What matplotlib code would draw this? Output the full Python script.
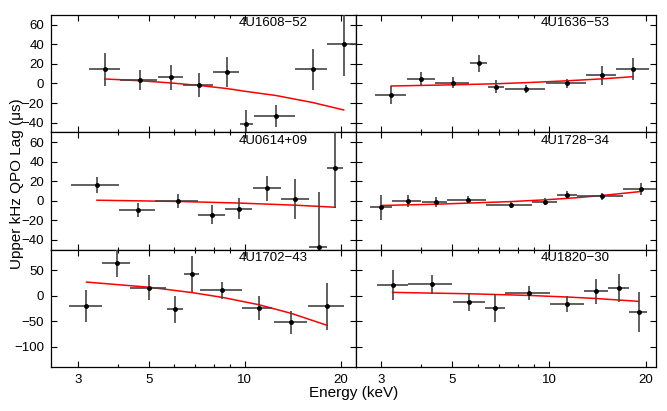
import numpy as np
import matplotlib.pyplot as plt
from matplotlib.ticker import FixedLocator, NullFormatter, FixedFormatter

plt.rcParams['font.family'] = ['Liberation Sans', 'DejaVu Sans']

# Data: energy bin centre / edges (keV), lag and error (us),
# plus the red model curve sampled at a few energies.
names = ['4U1608\u221252', '4U1636\u221253', '4U0614+09',
         '4U1728\u221234', '4U1702\u221243', '4U1820\u221230']

e_1608 = [3.64, 4.68, 5.87, 7.17, 8.77, 10.1, 12.5, 16.3, 20.4]
elo_1608 = [3.25, 4.05, 5.33, 6.41, 7.97, 9.65, 10.7, 14.4, 18.1]
ehi_1608 = [4.05, 5.32, 6.41, 7.95, 9.58, 10.6, 14.4, 18.1, 23.0]
lag_1608 = [14.4, 3.5, 6.3, -1.6, 11.4, -41.7, -33.2, 14.4, 39.9]
err_1608 = [16.6, 10.0, 12.7, 12.0, 15.3, 15.0, 11.3, 21.0, 32.3]
mod_e_1608 = [3.64, 4.68, 5.87, 7.17, 8.77, 10.1, 12.5, 16.3, 20.4]
mod_1608 = [4.6, 2.8, 0.5, -2.0, -5.2, -8.2, -12.3, -19.5, -27.1]

e_1636 = [3.23, 4.0, 5.03, 6.05, 6.83, 8.46, 11.35, 14.6, 18.2]
elo_1636 = [2.87, 3.61, 4.42, 5.66, 6.45, 7.27, 9.76, 13.0, 16.2]
ehi_1636 = [3.60, 4.41, 5.64, 6.43, 7.25, 9.69, 13.0, 16.1, 20.4]
lag_1636 = [-11.8, 4.6, 0.8, 20.5, -3.3, -5.3, 0.1, 8.3, 14.8]
err_1636 = [8.9, 6.8, 5.7, 8.5, 6.8, 4.0, 4.6, 9.5, 10.9]
mod_e_1636 = [3.23, 5.03, 6.83, 8.46, 11.35, 14.6, 18.2]
mod_1636 = [-2.6, -1.4, -0.3, 0.8, 2.7, 4.7, 6.9]

e_0614 = [3.44, 4.63, 6.19, 7.89, 9.56, 11.7, 14.4, 17.1, 19.2]
elo_0614 = [2.85, 4.03, 5.24, 7.15, 8.69, 10.6, 13.0, 15.9, 18.1]
ehi_0614 = [4.02, 5.23, 7.14, 8.69, 10.5, 13.0, 15.9, 18.1, 20.3]
lag_0614 = [16.3, -9.6, -0.1, -14.4, -8.3, 12.9, 2.0, -47.5, 33.4]
err_0614 = [8.0, 7.2, 6.8, 9.6, 10.8, 12.8, 20.5, 57.0, 40.3]
mod_e_0614 = [3.44, 6.19, 9.56, 14.4, 19.2]
mod_0614 = [0.6, -0.7, -2.3, -4.5, -6.6]

e_1728 = [3.0, 3.63, 4.44, 5.59, 7.62, 9.72, 11.4, 14.6, 19.3]
elo_1728 = [2.77, 3.24, 4.03, 4.83, 6.36, 8.88, 10.6, 12.2, 17.0]
ehi_1728 = [3.24, 4.01, 4.83, 6.36, 8.88, 10.6, 12.2, 17.0, 21.5]
lag_1728 = [-6.6, -0.1, -1.1, 1.3, -4.2, -1.1, 6.4, 4.4, 11.9]
err_1728 = [12.8, 6.2, 5.0, 4.0, 2.8, 3.7, 3.8, 3.1, 5.8]
mod_e_1728 = [3.0, 4.44, 7.62, 9.72, 12.0, 14.6, 19.3]
mod_1728 = [-4.8, -3.5, -0.8, 1.0, 3.0, 5.4, 9.5]

e_1702 = [3.19, 3.98, 5.01, 6.06, 6.81, 8.5, 11.05, 14.0, 18.1]
elo_1702 = [2.81, 3.57, 4.38, 5.69, 6.43, 7.22, 9.81, 12.3, 15.8]
ehi_1702 = [3.57, 4.38, 5.66, 6.41, 7.19, 9.79, 12.2, 15.7, 20.4]
lag_1702 = [-20.5, 63.0, 15.4, -27.0, 42.2, 10.2, -24.4, -52.4, -21.1]
err_1702 = [31.0, 27.0, 24.5, 27.0, 35.0, 16.0, 23.0, 22.0, 45.7]
mod_e_1702 = [3.19, 5.01, 6.81, 8.5, 11.05, 14.0, 18.1]
mod_1702 = [26.5, 16.4, 6.0, -3.5, -17.8, -35.0, -58.3]

e_1820 = [3.26, 4.32, 5.64, 6.8, 8.67, 11.4, 14.0, 16.5, 19.0]
elo_1820 = [2.91, 3.65, 5.01, 6.31, 7.29, 10.05, 12.8, 15.3, 17.7]
ehi_1820 = [3.65, 5.0, 6.31, 7.29, 10.05, 12.8, 15.2, 17.7, 20.2]
lag_1820 = [20.6, 22.6, -13.3, -24.4, 5.0, -16.5, 8.3, 14.8, -32.2]
err_1820 = [29.0, 18.6, 17.6, 28.0, 13.0, 15.5, 24.8, 26.8, 40.0]
mod_e_1820 = [3.26, 5.64, 8.67, 11.4, 14.0, 19.0]
mod_1820 = [6.3, 3.6, 0.3, -2.8, -5.7, -11.3]

sources = [
    (e_1608, elo_1608, ehi_1608, lag_1608, err_1608, mod_e_1608, mod_1608),
    (e_1636, elo_1636, ehi_1636, lag_1636, err_1636, mod_e_1636, mod_1636),
    (e_0614, elo_0614, ehi_0614, lag_0614, err_0614, mod_e_0614, mod_0614),
    (e_1728, elo_1728, ehi_1728, lag_1728, err_1728, mod_e_1728, mod_1728),
    (e_1702, elo_1702, ehi_1702, lag_1702, err_1702, mod_e_1702, mod_1702),
    (e_1820, elo_1820, ehi_1820, lag_1820, err_1820, mod_e_1820, mod_1820),
]

fig, axes = plt.subplots(3, 2, figsize=(6.67, 4.11), dpi=100,
                         gridspec_kw=dict(width_ratios=[305, 300]))
fig.subplots_adjust(left=0.0765, right=0.9835, top=0.9635, bottom=0.107,
                     wspace=0, hspace=0)

for i, ax in enumerate(axes.flat):
    e, elo, ehi, lag, err, me, mlag = sources[i]
    e = np.array(e)
    xerr = [e - np.array(elo), np.array(ehi) - e]
    ax.errorbar(e, lag, xerr=xerr, yerr=err, fmt='o', ms=2.5, color='black',
                ecolor='#444444', elinewidth=1.2, capsize=0, zorder=3)
    ax.plot(me, mlag, color='red', lw=1.1, zorder=2)
    ax.set_xscale('log')
    if i % 2 == 0:
        ax.set_xlim(2.47, 22.3)
    else:
        ax.set_xlim(2.51, 21.5)
    ax.xaxis.set_major_locator(FixedLocator([3, 5, 10, 20]))
    ax.xaxis.set_minor_locator(FixedLocator([4, 6, 7, 8, 9]))
    ax.xaxis.set_minor_formatter(NullFormatter())
    if i < 4:
        ax.set_ylim(-50, 70)
        ax.set_yticks([-40, -20, 0, 20, 40, 60])
    else:
        ax.set_ylim(-140, 90)
        ax.set_yticks([-100, -50, 0, 50])
    if i >= 4:
        ax.xaxis.set_major_formatter(FixedFormatter(['3', '5', '10', '20']))
    else:
        ax.tick_params(labelbottom=False)
    if i % 2 == 1:
        ax.tick_params(labelleft=False)
    ax.tick_params(which='both', direction='in', top=True, right=True,
                   labelsize=9.5, width=0.8)
    ax.tick_params(which='major', length=4, pad=5)
    ax.tick_params(which='minor', length=2.5)
    for s in ax.spines.values():
        s.set_linewidth(0.9)
    ax.text(0.73, 0.93, names[i], transform=ax.transAxes, ha='center',
            va='center', fontsize=9.5)

fig.text(0.025, 0.552, 'Upper kHz QPO Lag (\u03bcs)', rotation=90,
         ha='center', va='center', fontsize=11)
fig.text(0.53, 0.044, 'Energy (keV)', ha='center', va='center', fontsize=11)

fig.savefig('out.png', dpi=100)
